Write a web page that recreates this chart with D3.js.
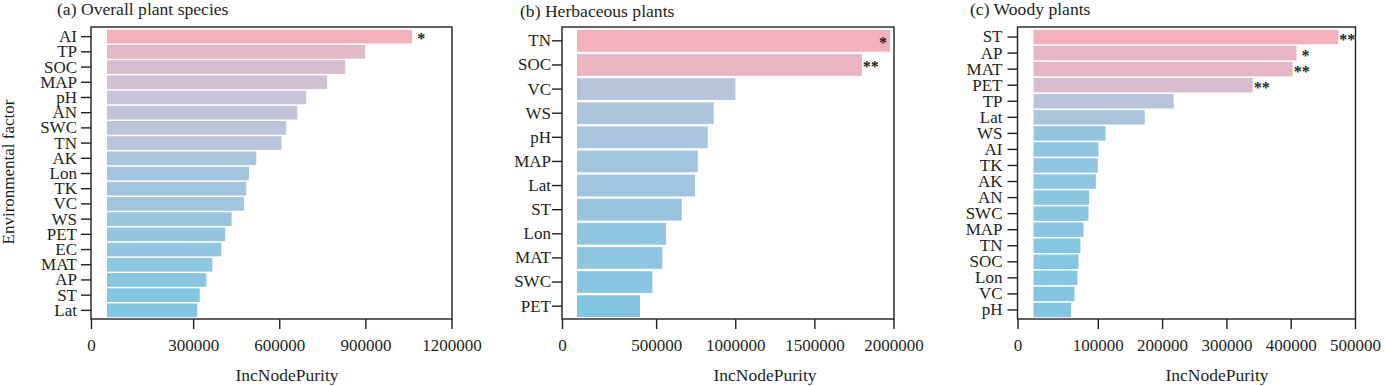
<!DOCTYPE html>
<html>
<head>
<meta charset="utf-8">
<script src="https://cdn.jsdelivr.net/npm/d3@7"></script>
<style>
  body { margin: 0; background: #fff; }
  svg { font-family: "Liberation Serif", "Times New Roman", serif; }
</style>
</head>
<body>
<script>
// (a) overall plant species
const factorsA = ['AI', 'TP', 'SOC', 'MAP', 'pH', 'AN', 'SWC', 'TN', 'AK', 'Lon', 'TK', 'VC', 'WS', 'PET', 'EC', 'MAT', 'AP', 'ST', 'Lat'];
const purityA = [1063000, 899000, 830000, 767000, 694000, 663000, 624000, 608000, 520000, 495000, 485000, 477000, 434000, 412000, 398000, 367000, 346000, 323000, 314000];
const sigA = ['*', '', '', '', '', '', '', '', '', '', '', '', '', '', '', '', '', '', ''];
const ticksA = [0, 300000, 600000, 900000, 1200000];

// (b) herbaceous plants
const factorsB = ['TN', 'SOC', 'VC', 'WS', 'pH', 'MAP', 'Lat', 'ST', 'Lon', 'MAT', 'SWC', 'PET'];
const purityB = [1978000, 1800000, 1001000, 864000, 826000, 763000, 746000, 662000, 563000, 539000, 476000, 398000];
const sigB = ['*', '**', '', '', '', '', '', '', '', '', '', ''];
const ticksB = [0, 500000, 1000000, 1500000, 2000000];

// (c) woody plants
const factorsC = ['ST', 'AP', 'MAT', 'PET', 'TP', 'Lat', 'WS', 'AI', 'TK', 'AK', 'AN', 'SWC', 'MAP', 'TN', 'SOC', 'Lon', 'VC', 'pH'];
const purityC = [474000, 409000, 403000, 341000, 218000, 173000, 112000, 101000, 100000, 97000, 86500, 85500, 77700, 73000, 70000, 68300, 63700, 58500];
const sigC = ['**', '*', '**', '**', '', '', '', '', '', '', '', '', '', '', '', '', '', ''];
const ticksC = [0, 100000, 200000, 300000, 400000, 500000];

const panels = [
  { title: '(a) Overall plant species', factors: factorsA, values: purityA, sig: sigA, ticks: ticksA,
    left: 91, right: 452, inset: 16, titleX: 57, titleY: 15, xTitleX: 287, labelPad: 4 },
  { title: '(b) Herbaceous plants', factors: factorsB, values: purityB, sig: sigB, ticks: ticksB,
    left: 562, right: 894, inset: 15, titleX: 520, titleY: 17, xTitleX: 765, labelPad: 1 },
  { title: '(c) Woody plants', factors: factorsC, values: purityC, sig: sigC, ticks: ticksC,
    left: 1017.5, right: 1355.5, inset: 16, titleX: 970, titleY: 15, xTitleX: 1217, labelPad: 5 }
];

const W = 1385, H = 386;
const frameTop = 27, frameBottom = 319;
const ink = '#231f20';

const svg = d3.select('body').append('svg')
  .attr('width', W)
  .attr('height', H);

// pink -> lavender -> blue by importance
const colorFor = (vals) => {
  const [lo, hi] = d3.extent(vals);
  const t = d3.scaleLinear().domain([lo, hi]).range([0, 1]);
  const ramp = d3.scaleLinear()
    .domain([0, 0.5, 1])
    .range(['#82c6e2', '#c8c4d8', '#f4b0bc'])
    .interpolate(d3.interpolateRgb);
  return v => ramp(t(v));
};

panels.forEach(p => {
  const maxTick = p.ticks[p.ticks.length - 1];
  const x = d3.scaleLinear()
    .domain([0, maxTick])
    .range([p.left + p.inset, p.right - 0.5]);
  // axis origin sits on the frame edge, bars start a little inside
  const xAxisScale = d3.scaleLinear()
    .domain([0, p.ticks[1], maxTick])
    .range([p.left, x(p.ticks[1]), x(maxTick)]);
  const y = d3.scaleBand()
    .domain(p.factors)
    .range([frameTop + 2.5, frameBottom - 1.5])
    .paddingInner(0.1)
    .paddingOuter(0.02);
  const color = colorFor(p.values);

  const g = svg.append('g');

  // bars
  g.append('g')
    .selectAll('rect')
    .data(p.factors)
    .enter().append('rect')
      .attr('x', x(0))
      .attr('y', d => y(d))
      .attr('width', (d, i) => x(p.values[i]) - x(0))
      .attr('height', y.bandwidth())
      .attr('fill', (d, i) => color(p.values[i]));

  // significance stars
  g.append('g')
    .selectAll('text')
    .data(p.factors)
    .enter().append('text')
      .attr('x', (d, i) => {
        const xe = x(p.values[i]);
        return xe + 10 > p.right ? xe - 7 : xe + 9;
      })
      .attr('y', d => y(d) + y.bandwidth() / 2)
      .attr('dy', '0.47em')
      .attr('text-anchor', 'middle')
      .attr('font-size', 16)
      .attr('font-weight', 'bold')
      .attr('fill', ink)
      .text((d, i) => p.sig[i]);

  // frame
  g.append('rect')
    .attr('x', p.left)
    .attr('y', frameTop)
    .attr('width', p.right - p.left)
    .attr('height', frameBottom - frameTop)
    .attr('fill', 'none')
    .attr('stroke', ink)
    .attr('stroke-width', 1.4);

  // x axis
  const xa = g.append('g')
    .attr('transform', `translate(0,${frameBottom})`)
    .call(d3.axisBottom(xAxisScale)
      .tickValues(p.ticks)
      .tickSize(10)
      .tickSizeOuter(0)
      .tickPadding(10)
      .tickFormat(d3.format('d')))
    .attr('font-family', null)
    .attr('font-size', 17);
  xa.select('.domain').remove();
  xa.selectAll('line').attr('stroke', ink).attr('stroke-width', 1.4);
  xa.selectAll('text').attr('fill', ink);

  // y axis
  const ya = g.append('g')
    .attr('transform', `translate(${p.left},0)`)
    .call(d3.axisLeft(y).tickSize(10).tickPadding(p.labelPad))
    .attr('font-family', null)
    .attr('font-size', 17);
  ya.select('.domain').remove();
  ya.selectAll('line').attr('stroke', ink).attr('stroke-width', 1.4);
  ya.selectAll('text').attr('fill', ink);

  // titles
  g.append('text')
    .attr('x', p.titleX)
    .attr('y', p.titleY)
    .attr('font-size', 17.6)
    .attr('fill', ink)
    .text(p.title);

  g.append('text')
    .attr('x', p.xTitleX)
    .attr('y', 381)
    .attr('text-anchor', 'middle')
    .attr('font-size', 17.5)
    .attr('fill', ink)
    .text('IncNodePurity');
});

svg.append('text')
  .attr('transform', 'translate(13.5,172) rotate(-90)')
  .attr('text-anchor', 'middle')
  .attr('font-size', 17)
  .attr('fill', ink)
  .text('Environmental factor');
</script>
</body>
</html>
